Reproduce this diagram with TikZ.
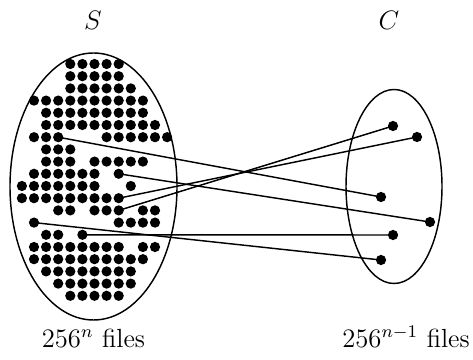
\documentclass[tikz,border=0pt]{standalone}
\usetikzlibrary{shapes.geometric}
\begin{document}
\begin{tikzpicture}[x=0.45pt,y=-0.45pt,
  dot/.style={circle,fill=black,inner sep=0pt,minimum size=4.6pt},
  setbox/.style={draw=black,ellipse,line width=0.65pt,inner sep=0pt},
  link/.style={line width=0.65pt},
  lbl/.style={inner sep=0pt,font=\fontsize{11.8}{14}\selectfont}]
\useasboundingbox (0,0) rectangle (473,360);
% sets
\node[setbox,minimum width=75.15pt,minimum height=120.15pt] (Sset) at (93.5,186.5) {};
\node[setbox,minimum width=43.2pt,minimum height=87.3pt] (Cset) at (394,186.5) {};
% grid of files in S
\foreach \r/\cols in {1/{4,5,6,7,8},2/{4,5,6,7,8},3/{4,5,6,7,8,9},
  4/{1,2,3,4,5,6,7,8,9,10},5/{2,3,4,5,6,7,8,9,10},6/{2,3,4,5,6,7,8,9,10,11},
  7/{1,2,3,7,8,9,10,11,12},8/{2,3,4},9/{2,3,4,6,7,8,9,10},
  10/{1,2,3,4,5,6,8},11/{0,1,2,3,4,5,6,9},12/{0,1,2,3,4,5,6,7,8},
  13/{3,4,6,7,8,10,11},14/{1,8,9,10,11},15/{2,3,5},
  16/{1,2,3,4,5,6,7,8,10,11},17/{1,2,3,4,5,6,7,8,9,10},
  18/{2,3,4,5,6,7,8,9},19/{3,4,5,6,7,8,9},20/{4,5,6,7,8}}{
  \foreach \c in \cols {
    \node[dot] (s-\r-\c) at ({21.9+12.1*\c},{64+12.2*(\r-1)}) {};
  }
}
% files in C
\node[dot] (c1) at (393,126) {};
\node[dot] (c2) at (417,137) {};
\node[dot] (c3) at (381,197) {};
\node[dot] (c4) at (430,222) {};
\node[dot] (c5) at (393,235) {};
\node[dot] (c6) at (381,260) {};
% mapping
\draw[link] (s-7-3.center) -- (c3.center);
\draw[link] (s-10-8.center) -- (c4.center);
\draw[link] (s-12-8.center) -- (c2.center);
\draw[link] (s-13-8.center) -- (c1.center);
\draw[link] (s-14-1.center) -- (c6.center);
\draw[link] (s-15-5.center) -- (c5.center);
% labels
\node[lbl] (Slbl) at (93,20) {$S$};
\node[lbl] (Clbl) at (389,20) {$C$};
\node[lbl,anchor=base] (Sfiles) at (93.5,347) {$256^n$ files};
\node[lbl,anchor=base] (Cfiles) at (406,347) {$256^{n-1}$ files};
\end{tikzpicture}
\end{document}
